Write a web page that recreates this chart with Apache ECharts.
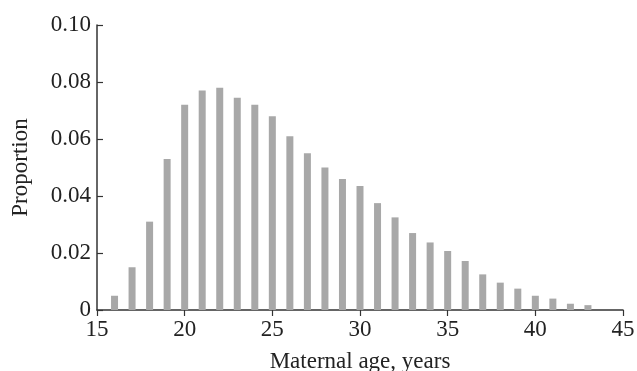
<!DOCTYPE html>
<html>
<head>
<meta charset="utf-8">
<script src="https://cdn.jsdelivr.net/npm/echarts@6/dist/echarts.min.js"></script>
<style>html,body{margin:0;padding:0;background:#fff}#c{width:637px;height:371px}</style>
</head>
<body>
<div id="c"></div>
<script>
var ages = [16,17,18,19,20,21,22,23,24,25,26,27,28,29,30,31,32,33,34,35,36,37,38,39,40,41,42,43];
var proportions = [0.005,0.015,0.031,0.053,0.072,0.077,0.078,0.0745,0.072,0.068,0.061,0.055,0.050,0.046,0.0435,0.0375,0.0325,0.027,0.0237,0.0207,0.0172,0.0125,0.0096,0.0075,0.005,0.004,0.0022,0.0017];
var xTicks = [15,20,25,30,35,40,45];
var yTicks = [0,0.02,0.04,0.06,0.08,0.10];
var xTitle = 'Maternal age, years';
var yTitle = 'Proportion';

var font = 'Liberation Serif';
var chart = echarts.init(document.getElementById('c'), null, {renderer:'canvas'});
chart.setOption({
  animation:false,
  backgroundColor:'#fff',
  grid:{left:97,right:14,top:25,bottom:61,containLabel:false,outerBoundsMode:'none'},
  xAxis:{
    type:'value', min:xTicks[0], max:xTicks[xTicks.length-1], interval:5,
    name:xTitle, nameLocation:'middle', nameGap:40,
    nameTextStyle:{fontFamily:font,fontSize:23,color:'#222'},
    axisLine:{lineStyle:{color:'#333',width:1.5}},
    axisTick:{show:true,inside:false,length:6,lineStyle:{color:'#333',width:1.2}},
    axisLabel:{fontFamily:font,fontSize:23,color:'#222',margin:8},
    splitLine:{show:false}
  },
  yAxis:{
    type:'value', min:0, max:0.1, interval:0.02,
    name:yTitle, nameLocation:'middle', nameGap:65, nameRotate:90,
    nameTextStyle:{fontFamily:font,fontSize:23,color:'#222'},
    axisLine:{show:true,lineStyle:{color:'#333',width:1.5}},
    axisTick:{show:true,inside:true,length:6,lineStyle:{color:'#333',width:1.2}},
    axisLabel:{fontFamily:font,fontSize:23,color:'#222',margin:6,
      formatter:function(v){ return v===0 ? '0' : v.toFixed(2); }},
    splitLine:{show:false}
  },
  series:[{
    type:'bar',
    barWidth:7,
    itemStyle:{color:'#a8a8a8'},
    data: ages.map(function(a,i){ return [a, proportions[i]]; })
  }]
});
</script>
</body>
</html>
